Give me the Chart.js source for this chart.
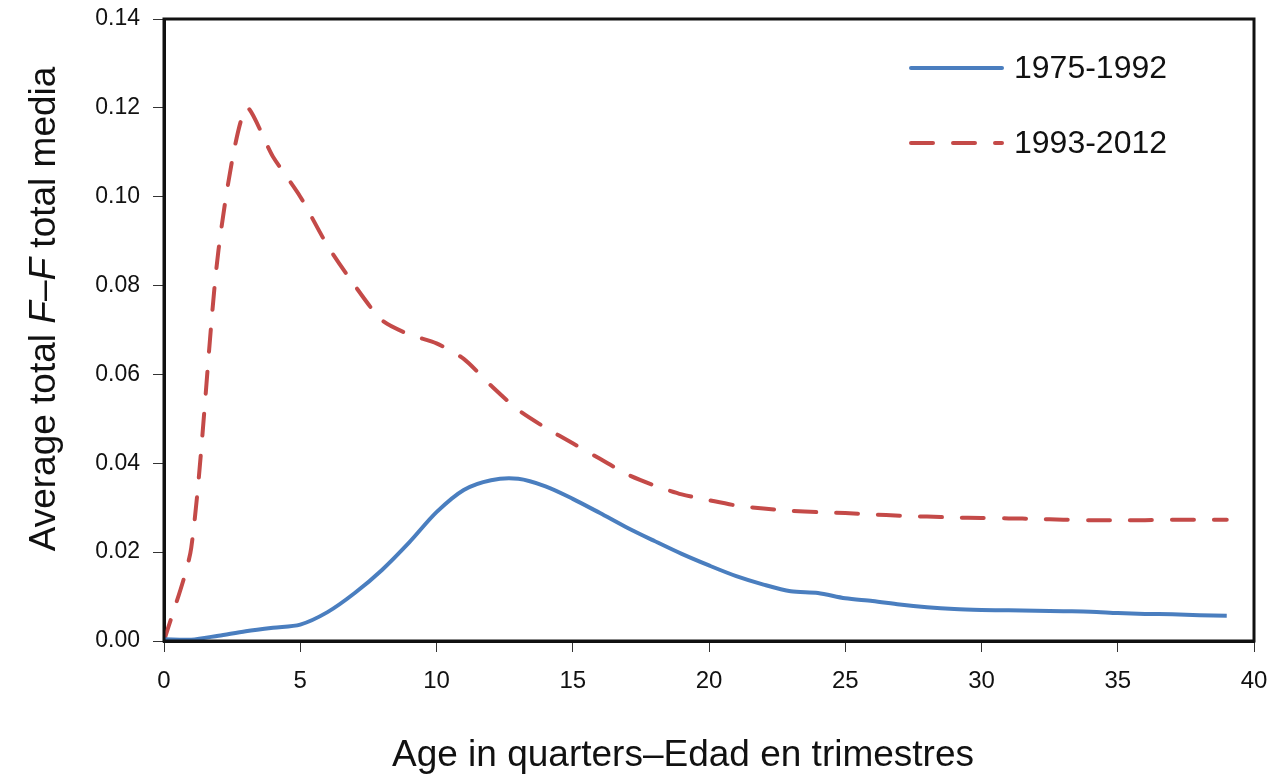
<!DOCTYPE html>
<html>
<head>
<meta charset="utf-8">
<script src="https://cdn.jsdelivr.net/npm/chart.js@4.4.1/dist/chart.umd.min.js"></script>
<style>
  html, body { margin: 0; padding: 0; background: #fff; }
  #wrap { width: 1273px; height: 780px; }
</style>
</head>
<body>
<div id="wrap"><canvas id="chart" width="1273" height="780"></canvas></div>
<script>
// age in quarters
var ages = [0,1,2,3,4,5,6,7,8,9,10,11,12,13,14,15,16,17,18,19,20,21,22,23,24,25,26,27,28,29,30,31,32,33,34,35,36,37,38,39];

var ff_1975_1992 = [0.0004,0.0003,0.0012,0.0022,0.0030,0.0037,0.0065,0.0108,0.0160,0.0222,0.0290,0.0340,0.0362,0.0365,0.0348,0.0320,0.0288,0.0255,0.0225,0.0196,0.0170,0.0146,0.0127,0.0112,0.0108,0.0096,0.0090,0.0082,0.0076,0.0072,0.0070,0.0069,0.0068,0.0067,0.0066,0.0063,0.0061,0.0060,0.0058,0.0057];

var ff_1993_2012 = [0.0000,0.0210,0.0880,0.1200,0.1090,0.1000,0.0890,0.0800,0.0722,0.0690,0.0670,0.0635,0.0575,0.0520,0.0480,0.0445,0.0410,0.0375,0.0350,0.0330,0.0317,0.0305,0.0298,0.0293,0.0290,0.0288,0.0285,0.0282,0.0280,0.0278,0.0277,0.0276,0.0275,0.0273,0.0272,0.0272,0.0272,0.0273,0.0273,0.0273];

var series_labels = ['1975-1992', '1993-2012'];
var y_ticks = [0, 0.02, 0.04, 0.06, 0.08, 0.10, 0.12, 0.14];
var x_ticks = [0, 5, 10, 15, 20, 25, 30, 35, 40];
var x_title = 'Age in quarters\u2013Edad en trimestres';

function to_points(xs, ys){
    var pts = [];
    for(var i = 0; i < xs.length; i++){
        pts.push({x: xs[i], y: ys[i]});
    }
    return pts;
}

var BLUE = '#4a7ebf';
var RED = '#c44a48';
var FONT = '"Liberation Sans", Arial, sans-serif';

// box around the plot area + legend + axis titles (italic F in y title)
var decor = {
    id: 'decor',
    afterDraw: function(chart){
        var ctx = chart.ctx;
        var a = chart.chartArea;
        ctx.save();
        ctx.strokeStyle = '#111';
        ctx.lineWidth = 3;
        ctx.strokeRect(a.left, a.top, a.right - a.left, a.bottom - a.top);

        // legend
        var items = chart.data.datasets;
        var ly = [68, 143];
        for(var i = 0; i < items.length; i++){
            ctx.beginPath();
            ctx.lineWidth = 4;
            ctx.lineCap = 'round';
            ctx.strokeStyle = items[i].borderColor;
            ctx.setLineDash(items[i].borderDash || []);
            ctx.moveTo(911, ly[i]);
            ctx.lineTo(1002, ly[i]);
            ctx.stroke();
            ctx.setLineDash([]);
            ctx.fillStyle = '#111';
            ctx.font = '32px ' + FONT;
            ctx.textBaseline = 'middle';
            ctx.textAlign = 'left';
            ctx.fillText(items[i].label, 1014, ly[i] + 1);
        }

        // x title
        ctx.font = '37px ' + FONT;
        ctx.textAlign = 'center';
        ctx.textBaseline = 'middle';
        ctx.fillText(x_title, 683, 756);

        // y title
        var parts = [
            ['Average total ', 'normal'],
            ['F', 'italic'],
            ['\u2013', 'normal'],
            ['F', 'italic'],
            [' total media', 'normal']
        ];
        var total = 0;
        for(var p = 0; p < parts.length; p++){
            ctx.font = parts[p][1] + ' 37px ' + FONT;
            total += ctx.measureText(parts[p][0]).width;
        }
        ctx.translate(45, 309);
        ctx.rotate(-Math.PI / 2);
        ctx.textBaseline = 'middle';
        ctx.textAlign = 'left';
        var x = -total / 2;
        for(var q = 0; q < parts.length; q++){
            ctx.font = parts[q][1] + ' 37px ' + FONT;
            ctx.fillText(parts[q][0], x, 0);
            x += ctx.measureText(parts[q][0]).width;
        }
        ctx.restore();
    }
};

var ctx = document.getElementById('chart');
new Chart(ctx, {
    type: 'line',
    data: {
        datasets: [
            {
                label: series_labels[0],
                data: to_points(ages, ff_1975_1992),
                borderColor: BLUE,
                borderWidth: 4,
                pointRadius: 0,
                tension: 0.3,
                fill: false
            },
            {
                label: series_labels[1],
                data: to_points(ages, ff_1993_2012),
                borderColor: RED,
                borderWidth: 4,
                borderDash: [22, 20],
                borderCapStyle: 'round',
                pointRadius: 0,
                tension: 0.25,
                fill: false
            }
        ]
    },
    options: {
        responsive: false,
        animation: false,
        layout: {
            padding: {left: 0, right: 19, top: 19, bottom: 0}
        },
        plugins: {
            legend: {display: false},
            tooltip: {enabled: false}
        },
        scales: {
            x: {
                type: 'linear',
                min: 0,
                max: 40,
                afterBuildTicks: function(scale){
                    scale.ticks = x_ticks.map(function(v){ return {value: v}; });
                },
                afterFit: function(scale){
                    scale.height = 139;
                    scale.paddingLeft = 0;
                    scale.paddingRight = 0;
                },
                grid: {
                    display: true,
                    drawOnChartArea: false,
                    drawTicks: true,
                    tickLength: 11,
                    color: '#333',
                    lineWidth: 1
                },
                border: {display: true, color: '#111', width: 3},
                ticks: {
                    color: '#111',
                    padding: 15,
                    maxRotation: 0,
                    font: {family: '"Liberation Sans Narrow", ' + FONT, size: 24}
                },
                title: {display: false}
            },
            y: {
                min: 0,
                max: 0.14,
                afterBuildTicks: function(scale){
                    scale.ticks = y_ticks.map(function(v){ return {value: v}; });
                },
                afterFit: function(scale){
                    scale.width = 164;
                    scale.paddingTop = 0;
                    scale.paddingBottom = 0;
                },
                grid: {
                    display: true,
                    drawOnChartArea: false,
                    drawTicks: true,
                    tickLength: 11,
                    color: '#333',
                    lineWidth: 1
                },
                border: {display: true, color: '#111', width: 3},
                ticks: {
                    color: '#111',
                    padding: 13,
                    font: {family: FONT, size: 23},
                    callback: function(v){ return v.toFixed(2); }
                }
            }
        }
    },
    plugins: [decor]
});
</script>
</body>
</html>
